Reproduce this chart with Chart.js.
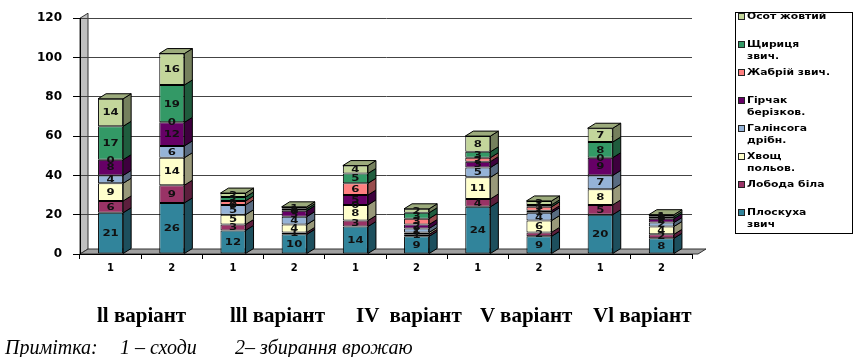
<!DOCTYPE html>
<html>
<head>
<meta charset="utf-8">
<script src="https://cdn.jsdelivr.net/npm/chart.js@4.4.1/dist/chart.umd.min.js"></script>
<style>
body{margin:0;background:#fff;}
#wrap{position:relative;width:855px;height:357px;overflow:hidden;}
#legend{position:absolute;left:735px;top:12px;width:118px;height:222px;border:1px solid #000;box-sizing:border-box;}
.item{position:absolute;left:2px;font:bold 9px "DejaVu Sans";line-height:12px;color:#000;}
.sw{position:absolute;left:0;top:3px;width:5px;height:5px;border:1px solid #222;}
.lbl{position:absolute;left:9px;top:0;white-space:nowrap;transform:scaleX(1.2);transform-origin:left top;}
.grp{position:absolute;top:303px;font:bold 21px "Liberation Serif";white-space:pre;}
.note{position:absolute;top:336px;font:italic 20px "Liberation Serif";white-space:pre;}
</style>
</head>
<body>
<div id="wrap">
<canvas id="myChart" width="855" height="357"></canvas>
<div id="legend"></div>
</div>
<script>
// categories: 1 - сходи, 2 - збирання врожаю
var categories = ['1','2','1','2','1','2','1','2','1','2'];
var groups = ['ll варіант','lll варіант','IV  варіант','V варіант','Vl варіант'];
var groupX = [97, 230, 356, 480, 593];
var yTicks = [0,20,40,60,80,100,120];

var seriesNames = ['Плоскуха\nзвич','Лобода біла','Хвощ\nпольов.','Галінсога\nдрібн.','Гірчак\nберізков.','Жабрій звич.','Щириця\nзвич.','Осот жовтий'];
var ploskukha   = [21,26,12,10,14, 9,24, 9,20, 8];
var loboda      = [ 6, 9, 3, 1, 3, 1, 4, 2, 5, 2];
var khvoshch    = [ 9,14, 5, 4, 8, 1,11, 6, 8, 4];
var galinsoga   = [ 4, 6, 5, 4, 0, 2, 5, 4, 7, 2];
var girchak     = [ 8,12, 0, 3, 5, 2, 3, 1, 9, 2];
var zhabrii     = [ 0, 0, 2, 0, 6, 3, 2, 2, 0, 0];
var shchyrytsia = [17,19, 2, 1, 5, 3, 3, 1, 8, 1];
var osot        = [14,16, 2, 1, 4, 2, 8, 2, 7, 1];
var seriesData = [ploskukha, loboda, khvoshch, galinsoga, girchak, zhabrii, shchyrytsia, osot];
var colors = ['#31849b','#993366','#ffffcc','#95b3d7','#660066','#ff8080','#339966','#c3d69b'];

var DX = 8, DY = 5;

function shade(hex, f) {
  var n = parseInt(hex.slice(1), 16);
  var r = Math.round(((n >> 16) & 255) * f), g = Math.round(((n >> 8) & 255) * f), b = Math.round((n & 255) * f);
  return 'rgb(' + r + ',' + g + ',' + b + ')';
}

// side wall and floor
var walls = {
  id: 'walls',
  beforeDraw: function(chart) {
    var c = chart.ctx, a = chart.chartArea;
    c.save();
    c.lineWidth = 1;
    c.strokeStyle = '#333333';
    c.fillStyle = '#c0c0c0';
    c.beginPath();
    c.moveTo(a.left, a.bottom); c.lineTo(a.left, a.top);
    c.lineTo(a.left + DX, a.top - DY); c.lineTo(a.left + DX, a.bottom - DY);
    c.closePath(); c.fill(); c.stroke();
    c.fillStyle = '#a0a0a0';
    c.beginPath();
    c.moveTo(a.left, a.bottom); c.lineTo(a.left + DX, a.bottom - DY);
    c.lineTo(a.right + DX + 6, a.bottom - DY); c.lineTo(a.right + 6, a.bottom);
    c.closePath(); c.fill(); c.stroke();
    c.restore();
  }
};

// side and top faces of the bars + value labels
var bars3d = {
  id: 'bars3d',
  afterDatasetsDraw: function(chart) {
    var c = chart.ctx;
    c.save();
    c.lineWidth = 1;
    c.strokeStyle = '#000';
    var n = categories.length;
    for (var i = 0; i < seriesData.length; i++) {
      var meta = chart.getDatasetMeta(i);
      meta.data.forEach(function(el, j) {
        if (seriesData[i][j] === 0) return;
        var r = el.x + el.width / 2;
        c.fillStyle = shade(colors[i], 0.6);
        c.beginPath();
        c.moveTo(r, el.y); c.lineTo(r + DX, el.y - DY);
        c.lineTo(r + DX, el.base - DY); c.lineTo(r, el.base);
        c.closePath(); c.fill(); c.stroke();
      });
    }
    for (var j = 0; j < n; j++) {
      var topIdx = -1;
      for (var i = 0; i < seriesData.length; i++) if (seriesData[i][j] > 0) topIdx = i;
      var el = chart.getDatasetMeta(topIdx).data[j];
      var l = el.x - el.width / 2, r = el.x + el.width / 2;
      c.fillStyle = shade(colors[topIdx], 0.8);
      c.beginPath();
      c.moveTo(l, el.y); c.lineTo(l + DX, el.y - DY);
      c.lineTo(r + DX, el.y - DY); c.lineTo(r, el.y);
      c.closePath(); c.fill(); c.stroke();
    }
    c.font = 'bold 9px "DejaVu Sans"';
    c.fillStyle = '#111';
    c.textAlign = 'center';
    c.textBaseline = 'middle';
    for (var i = 0; i < seriesData.length; i++) {
      chart.getDatasetMeta(i).data.forEach(function(el, j) {
        c.save();
        c.translate(el.x, (el.y + el.base) / 2 + 0.5);
        c.scale(1.3, 1);
        c.fillText(String(seriesData[i][j]), 0, 0);
        c.restore();
      });
    }
    c.restore();
  }
};

var ctx = document.getElementById('myChart');
var myChart = new Chart(ctx, {
  type: 'bar',
  data: {
    labels: categories,
    datasets: seriesNames.map(function(name, i) {
      return {
        label: name,
        data: seriesData[i],
        backgroundColor: colors[i],
        borderColor: '#000',
        borderWidth: 1,
        borderSkipped: false,
        barPercentage: 0.41,
        categoryPercentage: 1
      };
    })
  },
  options: {
    responsive: false,
    animation: false,
    layout: { padding: { top: 10, right: 163, bottom: 78, left: 0 } },
    plugins: { legend: { display: false }, tooltip: { enabled: false } },
    scales: {
      x: {
        stacked: true,
        grid: { offset: true, drawOnChartArea: false, tickLength: 5, color: '#000' },
        border: { color: '#000' },
        ticks: { font: { family: 'DejaVu Sans', weight: 'bold', size: 10 }, color: '#000', padding: 3 },
        afterFit: function(s) { s.height = 25; }
      },
      y: {
        stacked: true,
        min: 0,
        max: 120,
        afterBuildTicks: function(s) { s.ticks = yTicks.map(function(v) { return { value: v }; }); },
        grid: { drawOnChartArea: true, tickLength: 7, color: '#444444', tickColor: '#000' },
        border: { color: '#000' },
        ticks: { font: { family: 'DejaVu Sans', weight: 'bold', size: 12 }, color: '#000', padding: 11 },
        afterFit: function(s) { s.width = 80; }
      }
    }
  },
  plugins: [walls, bars3d]
});

// legend box (top item = last series)
var lg = document.getElementById('legend');
var centers = [16, 44, 72, 100, 128, 156, 184, 212];
for (var k = 0; k < seriesNames.length; k++) {
  var i = seriesNames.length - 1 - k;
  var it = document.createElement('div');
  it.className = 'item';
  it.style.top = (centers[k] - 6 - 13) + 'px';
  it.innerHTML = '<div class="sw" style="background:' + colors[i] + '"></div><div class="lbl">' + seriesNames[i].replace('\n', '<br>') + '</div>';
  lg.appendChild(it);
}

var wrap = document.getElementById('wrap');
groups.forEach(function(g, i) {
  var d = document.createElement('div');
  d.className = 'grp';
  d.style.left = groupX[i] + 'px';
  d.textContent = g;
  wrap.appendChild(d);
});
[['Примітка:', 5], ['1 – сходи', 120], ['2– збирання врожаю', 235]].forEach(function(p) {
  var d = document.createElement('div');
  d.className = 'note';
  d.style.left = p[1] + 'px';
  d.textContent = p[0];
  wrap.appendChild(d);
});
</script>
</body>
</html>
